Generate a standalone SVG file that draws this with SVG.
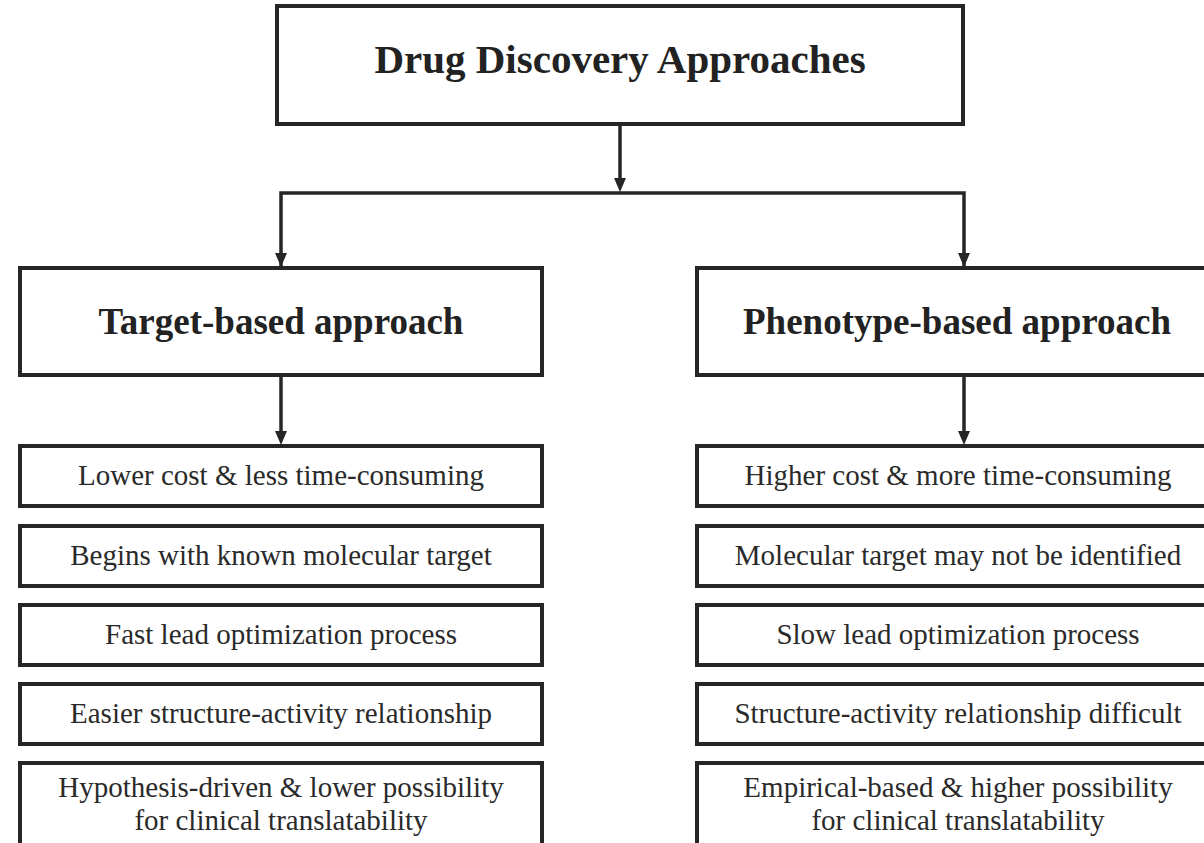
<svg xmlns="http://www.w3.org/2000/svg" width="1204" height="843" viewBox="0 0 1204 843">
  <defs>
    <marker id="ah" markerUnits="userSpaceOnUse" markerWidth="12" markerHeight="14" viewBox="0 0 12 14" refX="6" refY="14" orient="auto-start-reverse">
      <path d="M0,0 L12,0 L6,14 Z" fill="#262626"/>
    </marker>
    <style>
      .box { fill: #ffffff; stroke: #262626; stroke-width: 4; }
      .conn { fill: none; stroke: #262626; stroke-width: 3.5; }
      .title { font-family: "Liberation Serif", "Times New Roman", serif; font-weight: bold; fill: #222222; text-anchor: middle; }
      .item { font-family: "Liberation Serif", "Times New Roman", serif; font-size: 29px; fill: #2a2a2a; text-anchor: middle; }
    </style>
  </defs>
  <rect width="1204" height="843" fill="#ffffff"/>

  <g id="connectors">
    <line class="conn" x1="620" y1="124" x2="620" y2="180"/>
    <path d="M614,178 L626,178 L620,192 Z" fill="#262626"/>
    <polyline class="conn" points="281,266 281,193 964,193 964,266"/>
    <path d="M275,253 L287,253 L281,267 Z" fill="#262626"/>
    <path d="M958,253 L970,253 L964,267 Z" fill="#262626"/>
    <line class="conn" x1="281" y1="375" x2="281" y2="434"/>
    <path d="M275,431 L287,431 L281,445 Z" fill="#262626"/>
    <line class="conn" x1="964" y1="375" x2="964" y2="434"/>
    <path d="M958,431 L970,431 L964,445 Z" fill="#262626"/>
  </g>

  <g id="root">
    <rect class="box" x="277" y="6" width="686" height="118"/>
    <text class="title" x="620" y="73" font-size="41">Drug Discovery Approaches</text>
  </g>

  <g id="target">
    <rect class="box" x="20" y="268" width="522" height="107"/>
    <text class="title" x="281" y="334" font-size="37">Target-based approach</text>
  </g>

  <g id="phenotype">
    <rect class="box" x="697" y="268" width="522" height="107"/>
    <text class="title" x="957" y="334" font-size="37">Phenotype-based approach</text>
  </g>

  <g id="t1">
    <rect class="box" x="20" y="446" width="522" height="60"/>
    <text class="item" x="281" y="485">Lower cost &amp; less time-consuming</text>
  </g>
  <g id="t2">
    <rect class="box" x="20" y="526" width="522" height="60"/>
    <text class="item" x="281" y="565">Begins with known molecular target</text>
  </g>
  <g id="t3">
    <rect class="box" x="20" y="605" width="522" height="60"/>
    <text class="item" x="281" y="644">Fast lead optimization process</text>
  </g>
  <g id="t4">
    <rect class="box" x="20" y="684" width="522" height="60"/>
    <text class="item" x="281" y="723">Easier structure-activity relationship</text>
  </g>
  <g id="t5">
    <rect class="box" x="20" y="763" width="522" height="100"/>
    <text class="item" x="281" y="797">Hypothesis-driven &amp; lower possibility</text>
    <text class="item" x="281" y="830">for clinical translatability</text>
  </g>

  <g id="p1">
    <rect class="box" x="697" y="446" width="522" height="60"/>
    <text class="item" x="958" y="485">Higher cost &amp; more time-consuming</text>
  </g>
  <g id="p2">
    <rect class="box" x="697" y="526" width="522" height="60"/>
    <text class="item" x="958" y="565">Molecular target may not be identified</text>
  </g>
  <g id="p3">
    <rect class="box" x="697" y="605" width="522" height="60"/>
    <text class="item" x="958" y="644">Slow lead optimization process</text>
  </g>
  <g id="p4">
    <rect class="box" x="697" y="684" width="522" height="60"/>
    <text class="item" x="958" y="723">Structure-activity relationship difficult</text>
  </g>
  <g id="p5">
    <rect class="box" x="697" y="763" width="522" height="100"/>
    <text class="item" x="958" y="797">Empirical-based &amp; higher possibility</text>
    <text class="item" x="958" y="830">for clinical translatability</text>
  </g>
</svg>
